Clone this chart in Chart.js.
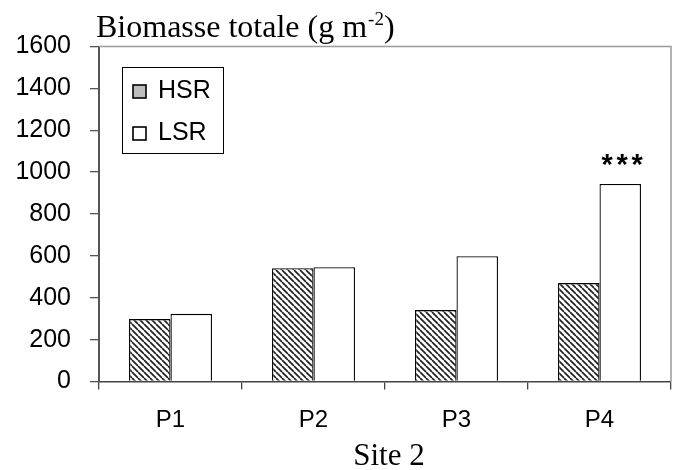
<!DOCTYPE html>
<html>
<head>
<meta charset="utf-8">
<script src="https://cdn.jsdelivr.net/npm/chart.js@4/dist/chart.umd.min.js"></script>
<style>
html,body{margin:0;padding:0;background:#fff;}
#wrap{width:674px;height:470px;position:relative;}
</style>
</head>
<body>
<div id="wrap"><canvas id="c" width="674" height="470"></canvas></div>
<script>
const categories = ['P1', 'P2', 'P3', 'P4'];
const hsrValues = [298, 541, 341, 470];
const lsrValues = [323, 546, 598, 943];
const seriesLabels = ['HSR', 'LSR'];
const yTicks = [0, 200, 400, 600, 800, 1000, 1200, 1400, 1600];
const titleMain = 'Biomasse totale (g m';
const titleSup = '-2';
const titleEnd = ')';
const xTitle = 'Site 2';
const signifLabels = ['', '', '', '***'];

function makePattern() {
  const s = 6;
  const pc = document.createElement('canvas');
  pc.width = s; pc.height = s;
  const p = pc.getContext('2d');
  p.fillStyle = '#ffffff';
  p.fillRect(0, 0, s, s);
  p.strokeStyle = '#222';
  p.lineWidth = 1.7;
  p.beginPath();
  for (const k of [-s, 0, s]) {
    p.moveTo(k, 0);
    p.lineTo(k + s, s);
  }
  p.stroke();
  return p.createPattern(pc, 'repeat');
}

const ctx = document.getElementById('c').getContext('2d');
const hatch = makePattern();

const decor = {
  id: 'decor',
  afterDraw(chart) {
    const c = chart.ctx;
    const a = chart.chartArea;
    c.save();
    // top and right frame
    c.strokeStyle = '#9a9a9a';
    c.lineWidth = 1.5;
    c.beginPath();
    c.moveTo(a.left, a.top);
    c.lineTo(a.right, a.top);
    c.lineTo(a.right, a.bottom);
    c.stroke();

    // title
    c.fillStyle = '#000';
    c.textBaseline = 'alphabetic';
    c.textAlign = 'left';
    c.font = '32px "Liberation Serif", "Times New Roman", serif';
    let x = 96;
    const by = 37;
    c.fillText(titleMain, x, by);
    x += c.measureText(titleMain).width;
    c.font = '19px "Liberation Serif", "Times New Roman", serif';
    c.fillText(titleSup, x + 1, by - 12);
    x += c.measureText(titleSup).width + 1;
    c.font = '32px "Liberation Serif", "Times New Roman", serif';
    c.fillText(titleEnd, x, by);

    // x title
    c.textAlign = 'center';
    c.font = '31px "Liberation Serif", "Times New Roman", serif';
    c.fillText(xTitle, 389, 465);

    // significance
    const meta = chart.getDatasetMeta(1);
    c.font = 'bold 29px "Liberation Sans", Arial, sans-serif';
    signifLabels.forEach((lab, i) => {
      if (!lab) return;
      const bar = meta.data[i];
      const cx = bar.x + 2;
      const n = lab.length;
      for (let j = 0; j < n; j++) {
        c.fillText(lab[j], cx + (j - (n - 1) / 2) * 15, bar.y - 10);
      }
    });

    // legend
    c.strokeStyle = '#000';
    c.lineWidth = 1;
    c.fillStyle = '#fff';
    c.fillRect(122.5, 67.5, 101, 86);
    c.strokeRect(122.5, 67.5, 101, 86);
    const fills = ['#bdbdbd', '#ffffff'];
    const rows = [98, 140];
    c.font = '25px "Liberation Sans", Arial, sans-serif';
    c.textAlign = 'left';
    chart.data.datasets.forEach((ds, i) => {
      const yb = rows[i];
      c.fillStyle = fills[i];
      c.fillRect(133, yb - 13, 13, 13);
      c.lineWidth = 1.6;
      c.strokeStyle = '#000';
      c.strokeRect(133, yb - 13, 13, 13);
      c.fillStyle = '#000';
      c.fillText(ds.label, 158, yb);
    });
    c.restore();
  }
};

new Chart(ctx, {
  type: 'bar',
  data: {
    labels: categories,
    datasets: [
      {
        label: seriesLabels[0],
        data: hsrValues,
        backgroundColor: hatch,
        borderColor: '#000',
        borderWidth: 1.3,
        categoryPercentage: 0.58,
        barPercentage: 1.0
      },
      {
        label: seriesLabels[1],
        data: lsrValues,
        backgroundColor: '#ffffff',
        borderColor: '#000',
        borderWidth: 1.3,
        categoryPercentage: 0.58,
        barPercentage: 1.0
      }
    ]
  },
  options: {
    responsive: false,
    animation: false,
    devicePixelRatio: 1,
    layout: { padding: { top: 46.5, right: 3, left: 0, bottom: 0 } },
    plugins: {
      legend: { display: false },
      tooltip: { enabled: false },
      title: { display: false }
    },
    scales: {
      x: {
        grid: {
          offset: true,
          drawOnChartArea: false,
          drawTicks: true,
          tickLength: 8,
          color: '#444',
          lineWidth: 1.3
        },
        border: { display: true, color: '#444', width: 1.5 },
        ticks: {
          color: '#000',
          padding: 16,
          font: { family: '"Liberation Sans", Arial, sans-serif', size: 24 }
        },
        afterFit(scale) { scale.height = 470 - 381.5; }
      },
      y: {
        min: 0,
        max: 1600,
        afterBuildTicks(scale) { scale.ticks = yTicks.map(v => ({ value: v })); },
        grid: {
          drawOnChartArea: false,
          drawTicks: true,
          tickLength: 9,
          color: '#555',
          lineWidth: 1.3
        },
        border: { display: true, color: '#555', width: 2 },
        ticks: {
          color: '#000',
          padding: 19,
          callback: (v) => String(v),
          font: { family: '"Liberation Sans", Arial, sans-serif', size: 25 }
        },
        afterFit(scale) { scale.width = 99; }
      }
    }
  },
  plugins: [decor]
});
</script>
</body>
</html>
